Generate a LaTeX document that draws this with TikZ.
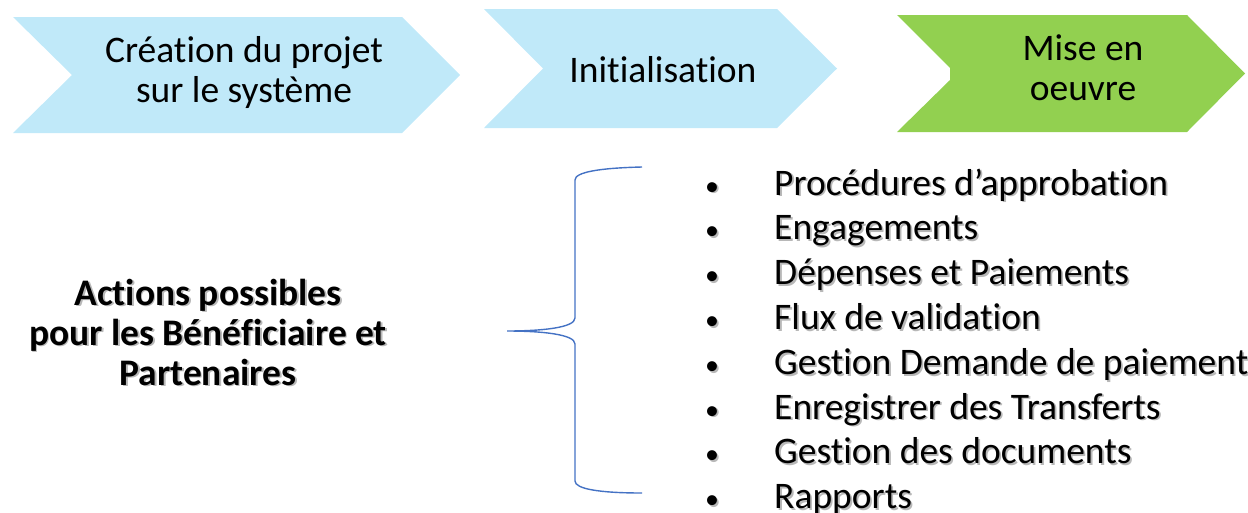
\documentclass[tikz,border=0pt]{standalone}
\usepackage{fontspec}
\setmainfont{Carlito}[Ligatures=NoCommon]
\definecolor{chevblue}{HTML}{C0E9F9}
\definecolor{chevgreen}{HTML}{92D050}
\definecolor{bracecol}{HTML}{4472C4}
\newcommand{\shd}[1]{\leavevmode\rlap{\kern1.8pt\raisebox{-1.8pt}{\textcolor{black!28}{#1}}}#1}
\tikzset{
  steptext/.style={align=center, font=\fontsize{37.5}{40}\selectfont, inner sep=0pt},
  itemtext/.style={anchor=base west, font=\fontsize{37.5}{40}\selectfont, inner sep=0pt},
  bullettext/.style={anchor=base, font=\fontsize{28}{40}\selectfont, inner sep=0pt},
}
\begin{document}
\begin{tikzpicture}[x=1pt,y=-1pt]
\useasboundingbox (0,0) rectangle (1248,512);
% etapes
\fill[chevblue] (13,17) -- (402,17) -- (460,75) -- (402,133) -- (13,133) -- (72,75) -- cycle;
\fill[chevblue] (484,9) -- (777,9) -- (837,68.5) -- (777,128) -- (484,128) -- (543,68.5) -- cycle;
\fill[chevgreen] (897,15) -- (1187,15) -- (1245,73.5) -- (1187,132) -- (897,132) -- (950,80) -- (950,68) -- cycle;
\node[steptext] (creation) at (244,72) {Création du projet\\sur le système};
\node[steptext] (init) at (663,70) {Initialisation};
\node[steptext] (miseoeuvre) at (1083,68) {Mise en\\oeuvre};
% acteurs
\node[steptext, font=\fontsize{37.5}{40}\selectfont\bfseries] (actions) at (208,333)
  {\shd{Actions possibles}\\\shd{pour les Bénéficiaire et}\\\shd{Partenaires}};
% accolade
\draw[bracecol, line width=1.4pt] (642,167) .. controls (600,168) and (575,172) .. (575,180)
  -- (575,318) .. controls (575,328) and (540,331) .. (507,331)
  .. controls (540,331) and (575,334) .. (575,344)
  -- (575,481) .. controls (575,489) and (600,493) .. (642,493);
% liste
\foreach \txt [count=\i from 0] in {Procédures d’approbation, Engagements, Dépenses et Paiements,
  Flux de validation, Gestion Demande de paiement, Enregistrer des Transferts,
  Gestion des documents, Rapports}{
  \node[bullettext] (b\i) at (712,195+44.8*\i) {\shd{•}};
  \node[itemtext] (it\i) at (774,195+44.8*\i) {\shd{\txt}};
}
\end{tikzpicture}
\end{document}
